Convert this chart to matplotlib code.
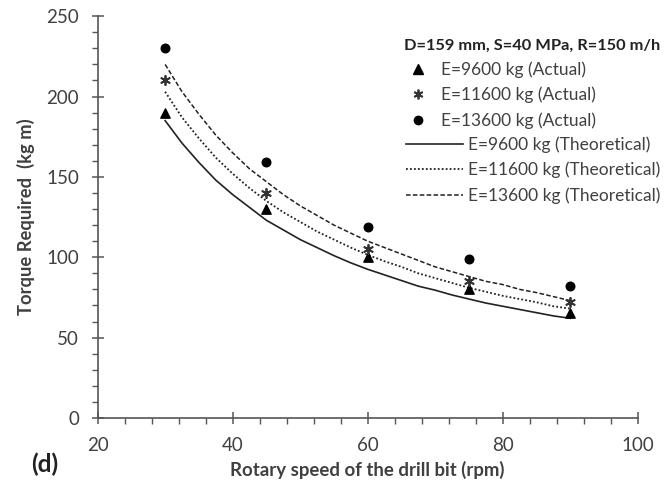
import matplotlib
matplotlib.use("Agg")
import matplotlib.pyplot as plt
from matplotlib.ticker import MultipleLocator
from matplotlib.lines import Line2D

rpm = [30, 45, 60, 75, 90]
actual_9600 = [190, 130, 100, 80, 65]
actual_11600 = [210, 140, 105, 85, 72]
actual_13600 = [230, 159, 119, 99, 82]

rpm_theo = [30, 32.5, 35, 37.5, 40, 42.5, 45, 47.5, 50, 52.5, 55, 57.5, 60,
            62.5, 65, 67.5, 70, 72.5, 75, 77.5, 80, 82.5, 85, 87.5, 90]
theo_9600 = [185, 171, 159, 148, 139, 131, 123, 117, 111, 106, 101, 96.5, 92.5,
             89, 85.5, 82, 79.5, 76.5, 74, 71.5, 69.5, 67.5, 65.5, 63.5, 62]
theo_11600 = [203, 187, 174, 162, 152, 143, 135, 128, 122, 116, 111, 106, 101.5,
              97.5, 94, 90, 87, 84, 81, 78.5, 76, 74, 72, 69.5, 68]
theo_13600 = [220, 203, 189, 176, 165, 155, 147, 139, 132, 126, 120, 115, 110,
              106, 102, 98, 94, 91, 88, 85, 83, 80, 78, 75.5, 73]

plt.rcParams['font.family'] = ['Lato', 'DejaVu Sans']
txt = '#404040'
lc = '#222222'

fig = plt.figure(figsize=(6.71, 4.84), dpi=100)
ax = fig.add_axes([0.1455, 0.1365, 0.805, 0.830])

ax.plot(rpm_theo, theo_9600, color=lc, lw=1.2, ls='-')
ax.plot(rpm_theo, theo_11600, color=lc, lw=1.3, ls=(0, (1, 1.2)))
ax.plot(rpm_theo, theo_13600, color=lc, lw=1.1, ls=(0, (3, 1.5)))

ax.scatter(rpm, actual_9600, marker='^', s=45, color='black', zorder=3)
ax.scatter(rpm, actual_11600, marker=(6, 2, 0), s=45, color='#333333', linewidths=1.3, zorder=3)
ax.scatter(rpm, actual_13600, marker='o', s=38, color='black', zorder=3)

ax.set_xlim(20, 100)
ax.set_ylim(0, 250)
ax.xaxis.set_major_locator(MultipleLocator(20))
ax.xaxis.set_minor_locator(MultipleLocator(4))
ax.yaxis.set_major_locator(MultipleLocator(50))
ax.yaxis.set_minor_locator(MultipleLocator(10))
for s in ['top', 'right']:
    ax.spines[s].set_visible(False)
for s in ['left', 'bottom']:
    ax.spines[s].set_color('#555555')
    ax.spines[s].set_linewidth(1.2)
ax.tick_params(which='major', direction='inout', length=9, width=1.1, color='#555555',
               labelsize=13.5, labelcolor=txt)
ax.tick_params(which='minor', direction='out', length=4, width=1.0, color='#555555')
ax.tick_params(axis='x', which='major', pad=9)
ax.tick_params(axis='y', which='major', pad=9)

ax.set_xlabel('Rotary speed of the drill bit (rpm)', fontsize=13.4, fontweight='bold', color=txt, labelpad=5)
ax.set_ylabel('Torque Required  (kg m)', fontsize=13.2, fontweight='bold', color=txt, labelpad=8)

fig.text(0.047, 0.024, '(d)', fontsize=17.5, fontweight='bold', color='#222222')

h1 = [
    Line2D([], [], ls='none', marker='^', color='black', markersize=7),
    Line2D([], [], ls='none', marker=(6, 2, 0), color='#333333', markersize=7, markeredgewidth=1.3),
    Line2D([], [], ls='none', marker='o', color='black', markersize=6),
]
l1 = ['E=9600 kg (Actual)', 'E=11600 kg (Actual)', 'E=13600 kg (Actual)']
h2 = [
    Line2D([], [], color=lc, lw=1.2, ls='-'),
    Line2D([], [], color=lc, lw=1.3, ls=(0, (1, 1.2))),
    Line2D([], [], color=lc, lw=1.1, ls=(0, (3, 1.5))),
]
l2 = ['E=9600 kg (Theoretical)', 'E=11600 kg (Theoretical)', 'E=13600 kg (Theoretical)']

leg1 = ax.legend(h1, l1, title='D=159 mm, S=40 MPa, R=150 m/h', loc='upper left',
                 bbox_to_anchor=(0.568, 0.945), frameon=False, fontsize=12.5, handlelength=1.6,
                 handletextpad=0.5, labelspacing=0.52, labelcolor=txt, borderaxespad=0, borderpad=0)
leg1.get_title().set_fontweight('bold')
leg1.get_title().set_fontsize(11.8)
leg1.get_title().set_color('#222222')
leg1._legend_box.align = 'left'
ax.add_artist(leg1)

leg2 = ax.legend(h2, l2, loc='upper left', bbox_to_anchor=(0.570, 0.701), frameon=False,
                 fontsize=12.5, handlelength=3.3, handletextpad=0.3, labelspacing=0.52,
                 labelcolor=txt, borderaxespad=0, borderpad=0)

fig.savefig('out.png', dpi=100)
